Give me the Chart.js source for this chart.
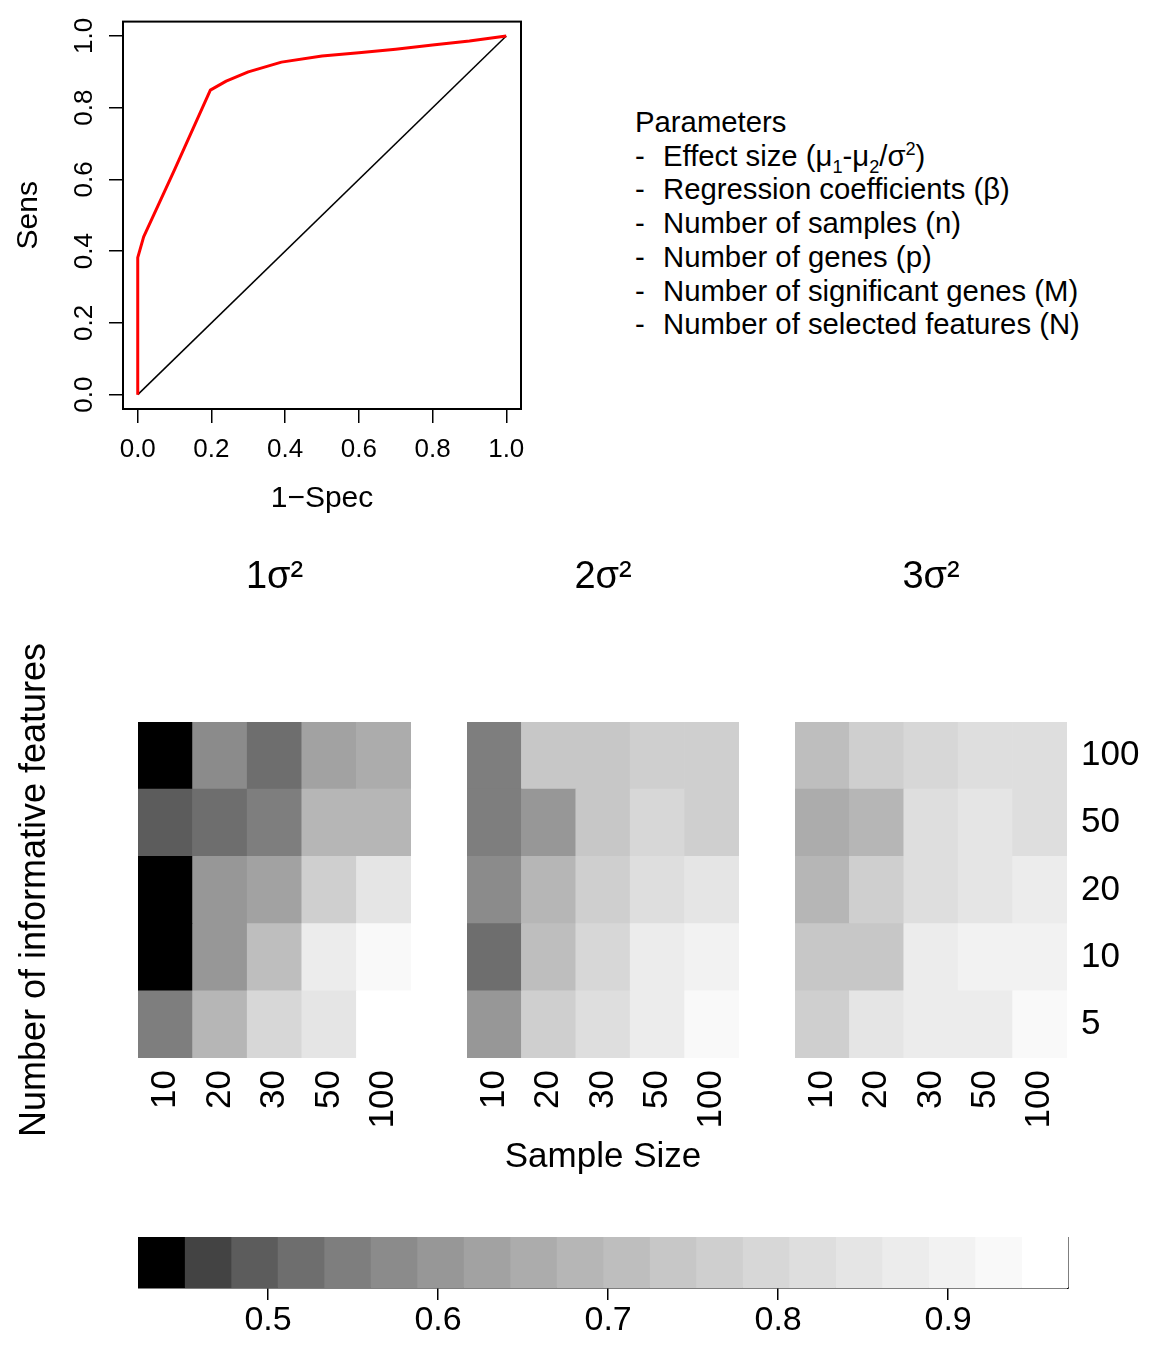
<!DOCTYPE html>
<html>
<head>
<meta charset="utf-8">
<title>ROC curve and AUC heatmaps</title>
<script src="https://cdn.jsdelivr.net/npm/chart.js@4.4.1/dist/chart.umd.min.js"></script>
<style>
  html, body { margin: 0; padding: 0; background: #fff; }
  #page { position: relative; width: 1152px; height: 1353px; overflow: hidden;
          font-family: 'Liberation Sans', Arial, sans-serif; color: #000; }
  #page canvas { position: absolute; }
  #params { position: absolute; left: 635px; top: 105px; font-size: 29.3px; line-height: 33.7px; white-space: nowrap; }
  #params .item { position: relative; padding-left: 28px; }
  #params .dash { position: absolute; left: 0; }
  #params sub, #params sup { font-size: 0.62em; line-height: 0; }
</style>
</head>
<body>
<div id="page">
  <canvas id="roc" width="560" height="530" style="left:0;top:0"></canvas>

  <div id="params">
    <div>Parameters</div>
    <div class="item"><span class="dash">-</span>Effect size (μ<sub>1</sub>-μ<sub>2</sub>/σ<sup>2</sup>)</div>
    <div class="item"><span class="dash">-</span>Regression coefficients (β)</div>
    <div class="item"><span class="dash">-</span>Number of samples (n)</div>
    <div class="item"><span class="dash">-</span>Number of genes (p)</div>
    <div class="item"><span class="dash">-</span>Number of significant genes (M)</div>
    <div class="item"><span class="dash">-</span>Number of selected features (N)</div>
  </div>

  <canvas id="heat1" width="411" height="648" style="left:0;top:540px"></canvas>
  <canvas id="heat2" width="272" height="648" style="left:467px;top:540px"></canvas>
  <canvas id="heat3" width="352" height="648" style="left:795px;top:540px"></canvas>
  <canvas id="key" width="932" height="116" style="left:138px;top:1237px"></canvas>
</div>

<script>
const FONT = "'Liberation Sans', Arial, sans-serif";

// ROC curve (1 - specificity vs sensitivity)
const rocSpec = [0, 0, 0.016, 0.1, 0.197, 0.24, 0.3, 0.39, 0.5, 0.6, 0.7, 0.8, 0.9, 1];
const rocSens = [0, 0.382, 0.44, 0.627, 0.849, 0.874, 0.9, 0.927, 0.944, 0.953, 0.963, 0.975, 0.986, 1];
const chanceSpec = [0, 1];
const chanceSens = [0, 1];
const rocTicks = [0, 0.2, 0.4, 0.6, 0.8, 1.0];

// AUC heatmaps: rows follow featureCounts (bottom row first), columns follow sampleSizes
const sampleSizes = ['10', '20', '30', '50', '100'];
const featureCounts = ['5', '10', '20', '50', '100'];
const panelTitles = ['1σ²', '2σ²', '3σ²'];

const auc1 = [
  [0.548, 0.686, 0.792, 0.846, 0.970],
  [0.425, 0.598, 0.712, 0.872, 0.931],
  [0.430, 0.603, 0.627, 0.768, 0.851],
  [0.489, 0.518, 0.545, 0.681, 0.684],
  [0.424, 0.571, 0.521, 0.631, 0.655]
];
const auc2 = [
  [0.603, 0.764, 0.818, 0.874, 0.928],
  [0.522, 0.708, 0.795, 0.869, 0.899],
  [0.572, 0.681, 0.761, 0.815, 0.842],
  [0.551, 0.596, 0.741, 0.787, 0.769],
  [0.546, 0.735, 0.742, 0.763, 0.766]
];
const auc3 = [
  [0.768, 0.849, 0.873, 0.871, 0.934],
  [0.737, 0.742, 0.876, 0.905, 0.902],
  [0.679, 0.766, 0.822, 0.844, 0.868],
  [0.658, 0.688, 0.812, 0.839, 0.821],
  [0.714, 0.772, 0.796, 0.817, 0.824]
];

// colour key: 20 grey bins
const keyBreaks = [0.4235, 0.4509, 0.4782, 0.5056, 0.5329, 0.5603, 0.5876, 0.6150, 0.6423, 0.6697,
                   0.6970, 0.7244, 0.7517, 0.7791, 0.8064, 0.8338, 0.8611, 0.8885, 0.9158, 0.9432, 0.9705];
const keyGreys = ['#000000', '#434343', '#5c5c5c', '#6e6e6e', '#7e7e7e', '#8b8b8b', '#979797', '#a2a2a2',
                  '#acacac', '#b6b6b6', '#bebebe', '#c7c7c7', '#cfcfcf', '#d7d7d7', '#dedede', '#e5e5e5',
                  '#ececec', '#f2f2f2', '#f9f9f9', '#ffffff'];
const keyTicks = [0.5, 0.6, 0.7, 0.8, 0.9];

Chart.defaults.font.family = FONT;
Chart.defaults.color = '#000';
Chart.defaults.animation = false;
Chart.defaults.events = [];
Chart.defaults.plugins.legend.display = false;
Chart.defaults.plugins.tooltip.enabled = false;

function greyFor(v) {
  for (let i = 0; i < keyGreys.length; i++) {
    if (v < keyBreaks[i + 1]) return keyGreys[i];
  }
  return keyGreys[keyGreys.length - 1];
}

function fixedTicks(values) {
  return scale => { scale.ticks = values.map(v => ({ value: v })); };
}

// box around the ROC plotting region
const frame = {
  id: 'frame',
  afterDatasetsDraw(chart) {
    const { ctx, chartArea: a } = chart;
    ctx.save();
    ctx.strokeStyle = '#000';
    ctx.lineWidth = 2;
    ctx.strokeRect(a.left, a.top, a.right - a.left, a.bottom - a.top);
    ctx.restore();
  }
};

const tickGrid = { display: true, drawOnChartArea: false, drawTicks: true, tickLength: 14, color: '#000', lineWidth: 1.5 };

new Chart(document.getElementById('roc'), {
  type: 'scatter',
  data: {
    datasets: [
      {
        data: rocSpec.map((x, i) => ({ x, y: rocSens[i] })),
        showLine: true, borderColor: '#ff0000', borderWidth: 3, pointRadius: 0,
        borderJoinStyle: 'round'
      },
      {
        data: chanceSpec.map((x, i) => ({ x, y: chanceSens[i] })),
        showLine: true, borderColor: '#000', borderWidth: 1.5, pointRadius: 0
      }
    ]
  },
  options: {
    responsive: false,
    layout: { padding: { left: 0, top: 18, right: 39, bottom: 0 } },
    scales: {
      x: {
        min: -0.04, max: 1.04,
        afterBuildTicks: fixedTicks(rocTicks),
        grid: tickGrid,
        border: { display: false },
        ticks: { autoSkip: false, maxRotation: 0, padding: 11, font: { size: 26 }, callback: v => v.toFixed(1) },
        title: { display: true, text: '1−Spec', font: { size: 30 }, padding: { top: 0, bottom: 13 } },
        afterFit: s => { s.height = 121; }
      },
      y: {
        min: -0.04, max: 1.04,
        afterBuildTicks: fixedTicks(rocTicks),
        grid: tickGrid,
        border: { display: false },
        ticks: { autoSkip: false, minRotation: 90, maxRotation: 90, crossAlign: 'center', padding: 6,
                 font: { size: 26 }, callback: v => v.toFixed(1) },
        title: { display: true, text: 'Sens', font: { size: 30 }, padding: { top: 11, bottom: 0 } },
        afterFit: s => { s.width = 123; }
      }
    }
  },
  plugins: [frame]
});

function heatPanel(id, title, grid, opts) {
  new Chart(document.getElementById(id), {
    type: 'bar',
    data: {
      labels: sampleSizes,
      datasets: featureCounts.map((f, r) => ({
        label: f,
        data: sampleSizes.map(() => [r, r + 1]),
        backgroundColor: grid[r].map(greyFor),
        grouped: false,
        barPercentage: 1,
        categoryPercentage: 1,
        borderWidth: 0
      }))
    },
    options: {
      responsive: false,
      layout: { padding: 0 },
      plugins: {
        title: {
          display: true, text: title, fullSize: false, color: '#000',
          font: { size: 38, weight: 'normal' },
          padding: { top: 15, bottom: 121.4 }
        }
      },
      scales: {
        x: {
          grid: { display: false },
          border: { display: false },
          ticks: { autoSkip: false, minRotation: 90, maxRotation: 90, padding: 4, font: { size: 35 } },
          title: opts.xTitle
            ? { display: true, text: opts.xTitle, font: { size: 35 }, padding: { top: 0, bottom: 10 } }
            : { display: false },
          afterFit: s => {
            s.height = 130;
            // no extra room for the rotated end labels; the panel edge is fixed
            s.paddingLeft = 0;
            s.paddingRight = 0;
          }
        },
        y: {
          min: 0, max: 5,
          display: opts.yMode !== 'none',
          position: opts.yMode === 'labels' ? 'right' : 'left',
          afterBuildTicks: fixedTicks(featureCounts.map((f, i) => i + 0.5)),
          grid: { display: false },
          border: { display: false },
          ticks: {
            display: opts.yMode === 'labels',
            padding: 6, font: { size: 35 },
            callback: (v, i) => featureCounts[i]
          },
          title: opts.yTitle
            ? { display: true, text: opts.yTitle, font: { size: 36 }, padding: { top: 13, bottom: 0 } }
            : { display: false },
          afterFit: s => {
            s.width = opts.yWidth || 0;
            s.paddingTop = 0;
            s.paddingBottom = 0;
          }
        }
      }
    }
  });
}

heatPanel('heat1', panelTitles[0], auc1, { yMode: 'title', yTitle: 'Number of informative features', yWidth: 138 });
heatPanel('heat2', panelTitles[1], auc2, { yMode: 'none', xTitle: 'Sample Size' });
heatPanel('heat3', panelTitles[2], auc3, { yMode: 'labels', yWidth: 80 });

new Chart(document.getElementById('key'), {
  type: 'bar',
  data: {
    labels: [''],
    datasets: keyGreys.map((g, i) => ({
      data: [[keyBreaks[i], keyBreaks[i + 1]]],
      backgroundColor: g,
      grouped: false,
      barPercentage: 1,
      categoryPercentage: 1,
      borderWidth: 0
    }))
  },
  options: {
    responsive: false,
    indexAxis: 'y',
    layout: { padding: 0 },
    scales: {
      x: {
        min: keyBreaks[0], max: keyBreaks[keyBreaks.length - 1],
        afterBuildTicks: fixedTicks(keyTicks),
        grid: { display: true, drawOnChartArea: false, drawTicks: true, tickLength: 12, color: '#000', lineWidth: 1.5 },
        border: { display: true, color: '#000', width: 1.5 },
        ticks: { autoSkip: false, maxRotation: 0, padding: 4, font: { size: 34, lineHeight: 1 }, callback: v => v.toFixed(1) },
        afterFit: s => { s.height = 65; s.paddingLeft = 0; s.paddingRight = 0; }
      },
      y: {
        position: 'right',
        grid: { display: false },
        border: { display: true, color: '#000', width: 1.5 },
        ticks: { display: false },
        afterFit: s => { s.width = 2; }
      }
    }
  }
});
</script>
</body>
</html>
